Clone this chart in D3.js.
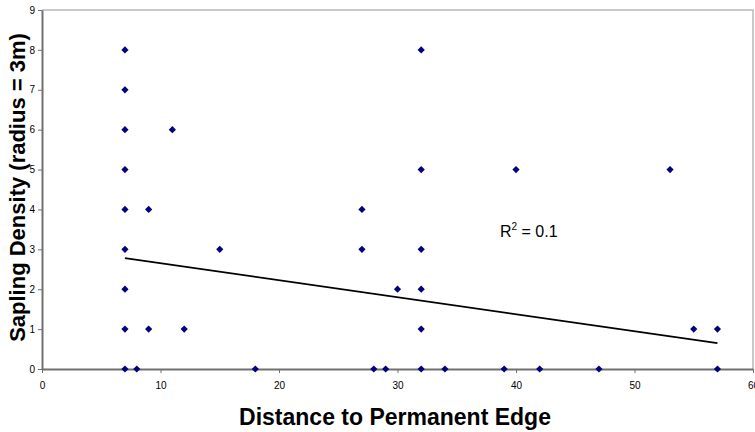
<!DOCTYPE html>
<html>
<head>
<meta charset="utf-8">
<script src="https://cdn.jsdelivr.net/npm/d3@7"></script>
<style>
    body { margin: 0; background: #fff; }
    svg { display: block; font-family: 'Liberation Sans', Arial, sans-serif; }
</style>
</head>
<body>
<div id="chart"></div>
<script>
// sapling counts vs distance to edge
const distance = [7, 7, 7, 7, 7, 7, 7, 7, 7, 8, 9, 9, 11, 12, 15, 18, 27, 27, 28, 29, 30,
    32, 32, 32, 32, 32, 32, 34, 39, 40, 42, 47, 53, 55, 57, 57];
const density = [8, 7, 6, 5, 4, 3, 2, 1, 0, 0, 4, 1, 6, 1, 3, 0, 4, 3, 0, 0, 2,
    8, 5, 3, 2, 1, 0, 0, 0, 5, 0, 0, 5, 1, 1, 0];
const trendX = [7, 57];
const trendY = [2.78, 0.65];
const xTicks = [0, 10, 20, 30, 40, 50, 60];
const yTicks = [0, 1, 2, 3, 4, 5, 6, 7, 8, 9];

const width = 755;
const height = 432;
const margin = { top: 10, right: 2, bottom: 63, left: 42 };

const svg = d3.select('#chart').append('svg')
    .attr('width', width)
    .attr('height', height);

const xScale = d3.scaleLinear()
    .domain([0, 60])
    .range([margin.left, width - margin.right]);
const yScale = d3.scaleLinear()
    .domain([0, 9])
    .range([height - margin.bottom, margin.top]);

// frame: light top/right border
svg.append('path')
    .attr('d', `M${xScale(0)},${yScale(9)}H${xScale(60)}V${yScale(0)}`)
    .attr('fill', 'none')
    .attr('stroke', '#b8b8b8')
    .attr('stroke-width', 1.5);

svg.append('g')
    .attr('transform', `translate(0, ${yScale(0)})`)
    .call(d3.axisBottom(xScale).tickValues(xTicks).tickSize(4).tickSizeOuter(0))
    .call((g) => g.select('.domain').attr('stroke', '#707070').attr('stroke-width', 2))
    .call((g) => g.selectAll('.tick line').attr('stroke', '#707070').attr('stroke-width', 1))
    .call((g) => g.selectAll('.tick text')
        .attr('fill', '#000')
        .attr('font-size', '10px')
        .attr('y', 20)
        .attr('dy', 0));

svg.append('g')
    .attr('transform', `translate(${xScale(0)}, 0)`)
    .call(d3.axisLeft(yScale).tickValues(yTicks).tickSize(4).tickSizeOuter(0))
    .call((g) => g.select('.domain').attr('stroke', '#707070').attr('stroke-width', 2))
    .call((g) => g.selectAll('.tick line').attr('stroke', '#707070').attr('stroke-width', 1))
    .call((g) => g.selectAll('.tick text')
        .attr('fill', '#000')
        .attr('font-size', '10px')
        .attr('x', -7));

// trend line
svg.append('line')
    .attr('x1', xScale(trendX[0]))
    .attr('y1', yScale(trendY[0]))
    .attr('x2', xScale(trendX[1]))
    .attr('y2', yScale(trendY[1]))
    .attr('stroke', '#000')
    .attr('stroke-width', 1.7);

// diamond markers
const diamond = d3.symbol().type(d3.symbolSquare).size(26);
svg.append('g')
    .selectAll('path')
    .data(distance.map((d, i) => [d, density[i]]))
    .enter()
    .append('path')
    .attr('d', diamond)
    .attr('transform', (d) => `translate(${xScale(d[0])}, ${yScale(d[1])}) rotate(45)`)
    .attr('fill', '#000080');

const r2 = svg.append('text')
    .attr('x', 500)
    .attr('y', 237)
    .attr('font-size', '16px')
    .attr('fill', '#000');
r2.append('tspan').text('R');
r2.append('tspan').text('2').attr('font-size', '10px').attr('dy', -7);
r2.append('tspan').text(' = 0.1').attr('dy', 7);

svg.append('text')
    .attr('x', 395)
    .attr('y', 425)
    .attr('text-anchor', 'middle')
    .attr('font-size', '23px')
    .attr('font-weight', 'bold')
    .text('Distance to Permanent Edge');

svg.append('text')
    .attr('transform', `translate(25, ${(yScale(0) + yScale(9)) / 2 - 2}) rotate(-90)`)
    .attr('text-anchor', 'middle')
    .attr('font-size', '22px')
    .attr('font-weight', 'bold')
    .text('Sapling Density (radius = 3m)');
</script>
</body>
</html>
